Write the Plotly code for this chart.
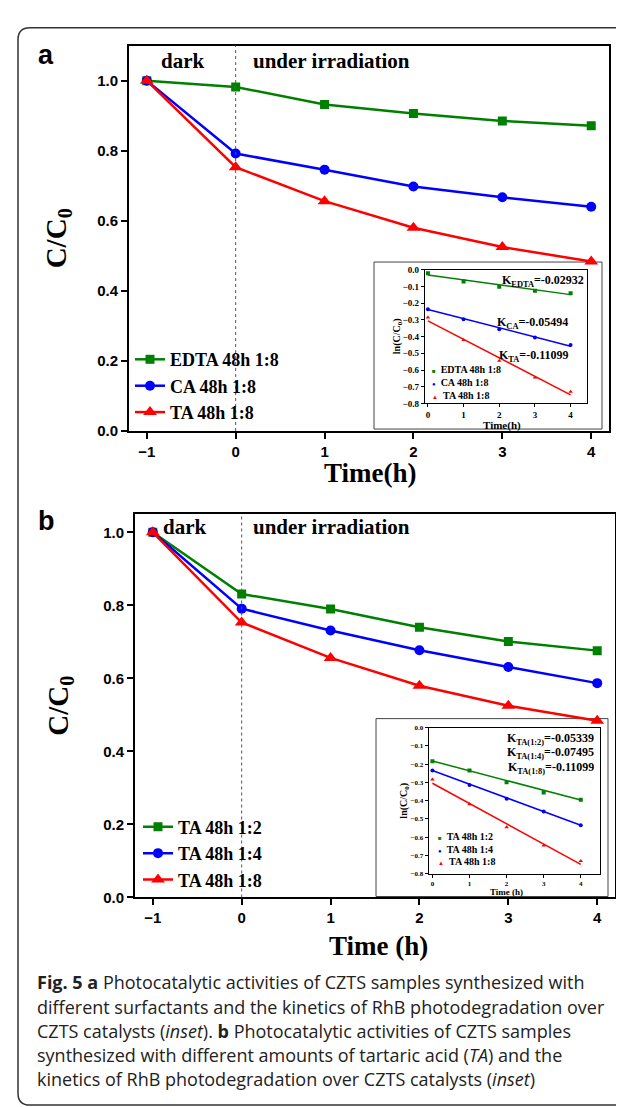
import plotly.graph_objects as go

W, H = 624, 1107

# ---- data ----
hours = [-1, 0, 1, 2, 3, 4]
edta_18 = [1.0, 0.982, 0.932, 0.906, 0.885, 0.871]
ca_18 = [1.0, 0.792, 0.746, 0.698, 0.667, 0.640]
ta_18 = [1.0, 0.753, 0.656, 0.580, 0.525, 0.484]

ta_12 = [1.0, 0.831, 0.790, 0.740, 0.701, 0.676]
ta_14 = [1.0, 0.791, 0.731, 0.677, 0.631, 0.587]
ta_18b = [1.0, 0.753, 0.656, 0.580, 0.525, 0.484]

# inset kinetics, ln(C/C0)
inset_hours = [0, 1, 2, 3, 4]
ln_edta = [-0.020, -0.070, -0.100, -0.125, -0.140]
ln_ca = [-0.235, -0.295, -0.355, -0.405, -0.450]
ln_ta = [-0.285, -0.420, -0.545, -0.645, -0.730]
ln_12 = [-0.185, -0.235, -0.300, -0.355, -0.395]
ln_14 = [-0.235, -0.315, -0.390, -0.460, -0.535]
ln_18 = [-0.285, -0.420, -0.545, -0.645, -0.730]

fit_hours = [0, 4]
fit_edta = [-0.031, -0.148]
fit_ca = [-0.237, -0.457]
fit_ta = [-0.305, -0.749]
fit_12 = [-0.183, -0.397]
fit_14 = [-0.235, -0.535]
fit_18 = [-0.305, -0.749]

GREEN, BLUE, RED = '#008000', '#0000ff', '#ff0000'
SERIF = 'Liberation Serif'
SANS = 'Liberation Sans'


def px(x):
    return x / W


def py(y):
    return 1 - y / H


fig = go.Figure()

# main panel a
for name, vals, col, sym, sz in [('EDTA 48h 1:8', edta_18, GREEN, 'square', 9),
                                 ('CA 48h 1:8', ca_18, BLUE, 'circle', 10),
                                 ('TA 48h 1:8', ta_18, RED, 'triangle-up', 12)]:
    fig.add_trace(go.Scatter(x=hours, y=vals, name='<b>' + name + '</b>', mode='lines+markers',
                             line=dict(color=col, width=2.5), marker=dict(symbol=sym, size=sz, color=col),
                             xaxis='x', yaxis='y', legend='legend'))

# inset a
for vals, fit, col, sym in [(ln_edta, fit_edta, GREEN, 'square'),
                            (ln_ca, fit_ca, BLUE, 'circle'),
                            (ln_ta, fit_ta, RED, 'triangle-up')]:
    fig.add_trace(go.Scatter(x=fit_hours, y=fit, mode='lines', line=dict(color=col, width=1.5),
                             xaxis='x2', yaxis='y2', showlegend=False))
    fig.add_trace(go.Scatter(x=inset_hours, y=vals, mode='markers', marker=dict(symbol=sym, size=4, color=col),
                             xaxis='x2', yaxis='y2', showlegend=False))

# main panel b
for name, vals, col, sym, sz in [('TA 48h 1:2', ta_12, GREEN, 'square', 9),
                                 ('TA 48h 1:4', ta_14, BLUE, 'circle', 10),
                                 ('TA 48h 1:8', ta_18b, RED, 'triangle-up', 12)]:
    fig.add_trace(go.Scatter(x=hours, y=vals, name='<b>' + name + '</b>', mode='lines+markers',
                             line=dict(color=col, width=2.5), marker=dict(symbol=sym, size=sz, color=col),
                             xaxis='x3', yaxis='y3', legend='legend2'))

# inset b
for vals, fit, col, sym in [(ln_12, fit_12, GREEN, 'square'),
                            (ln_14, fit_14, BLUE, 'circle'),
                            (ln_18, fit_18, RED, 'triangle-up')]:
    fig.add_trace(go.Scatter(x=fit_hours, y=fit, mode='lines', line=dict(color=col, width=1.5),
                             xaxis='x4', yaxis='y4', showlegend=False))
    fig.add_trace(go.Scatter(x=inset_hours, y=vals, mode='markers', marker=dict(symbol=sym, size=4, color=col),
                             xaxis='x4', yaxis='y4', showlegend=False))

main_ax = dict(showline=True, linecolor='black', linewidth=2, mirror=True, ticks='outside',
               ticklen=6, tickwidth=2, tickcolor='black', showgrid=False, zeroline=False,
               tickfont=dict(family=SANS, size=15, color='black', weight='bold'))
inset_ax = dict(showline=True, linecolor='black', linewidth=1, mirror=True, ticks='outside',
                ticklen=3, tickwidth=1, tickcolor='black', showgrid=False, zeroline=False)

fig.update_layout(
    width=W, height=H, margin=dict(l=0, r=0, t=0, b=0),
    paper_bgcolor='white', plot_bgcolor='rgba(0,0,0,0)',
    xaxis=dict(main_ax, domain=[px(121), px(601)], range=[-1.2, 4.2], tickvals=hours, anchor='y'),
    yaxis=dict(main_ax, domain=[py(423), py(33)], range=[0, 1.1], tickvals=[0, 0.2, 0.4, 0.6, 0.8, 1.0],
               tickformat='.1f', anchor='x'),
    xaxis2=dict(inset_ax, domain=[px(416.7), px(579)], range=[-0.09, 4.46], tickvals=inset_hours, anchor='y2',
                tickfont=dict(family=SERIF, size=9, color='black', weight='bold')),
    yaxis2=dict(inset_ax, domain=[py(395), py(260)], range=[-0.8, 0], dtick=0.1, tickformat='.1f', anchor='x2',
                tickfont=dict(family=SERIF, size=9, color='black', weight='bold')),
    xaxis3=dict(main_ax, domain=[px(127), px(607)], range=[-1.2, 4.2], tickvals=hours, anchor='y3'),
    yaxis3=dict(main_ax, domain=[py(895), py(507)], range=[0, 1.05], tickvals=[0, 0.2, 0.4, 0.6, 0.8, 1.0],
                tickformat='.1f', anchor='x3'),
    xaxis4=dict(inset_ax, domain=[px(420.7), px(591.7)], range=[-0.1, 4.51], tickvals=inset_hours, anchor='y4',
                tickfont=dict(family=SERIF, size=7, color='black', weight='bold')),
    yaxis4=dict(inset_ax, domain=[py(871), py(723)], range=[-0.8, 0], dtick=0.1, tickformat='.1f', anchor='x4',
                tickfont=dict(family=SERIF, size=7, color='black', weight='bold')),
    legend=dict(x=px(122), y=py(332), xanchor='left', yanchor='top', bgcolor='rgba(0,0,0,0)',
                font=dict(family=SERIF, size=18, color='black'), tracegroupgap=0),
    legend2=dict(x=px(130), y=py(805), xanchor='left', yanchor='top', bgcolor='rgba(0,0,0,0)',
                 font=dict(family=SERIF, size=18, color='black'), tracegroupgap=0),
    showlegend=True,
)

shapes = []
# outer rounded frame
r = 12
x0, x1, yt, yb = 10, 650, 15, 1105
frame = (f'M {px(x1)},{py(yt)} L {px(x0 + r)},{py(yt)} Q {px(x0)},{py(yt)} {px(x0)},{py(yt + r)} '
         f'L {px(x0)},{py(yb - r)} Q {px(x0)},{py(yb)} {px(x0 + r)},{py(yb)} L {px(x1)},{py(yb)}')
shapes.append(dict(type='path', path=frame, xref='paper', yref='paper', line=dict(color='#333', width=1.5),
                   layer='below'))
# inset boxes
shapes.append(dict(type='rect', xref='paper', yref='paper', x0=px(366), x1=px(594), y0=py(421), y1=py(252),
                   fillcolor='white', line=dict(color='#444', width=1), layer='below'))
shapes.append(dict(type='rect', xref='paper', yref='paper', x0=px(368), x1=px(600), y0=py(894), y1=py(714),
                   fillcolor='white', line=dict(color='#444', width=1), layer='below'))
# dotted dark/irradiation separators
for xr, yr in [('x', 'y domain'), ('x3', 'y3 domain')]:
    shapes.append(dict(type='line', xref=xr, yref=yr, x0=0, x1=0, y0=0, y1=1,
                       line=dict(color='#555', width=1, dash='dot')))
fig.update_layout(shapes=shapes)


def note(text, x, y, size, family=SERIF, xanchor='center', angle=0, color='black'):
    fig.add_annotation(text=text, x=px(x), y=py(y), xref='paper', yref='paper', showarrow=False,
                       xanchor=xanchor, yanchor='middle', textangle=angle,
                       font=dict(family=family, size=size, color=color))


# panel labels
note('<b>a</b>', 38, 43, 27, SANS)
note('<b>b</b>', 38, 514, 27, SANS)
note('<b>dark</b>', 175, 49, 21)
note('<b>under irradiation</b>', 243, 49, 21, xanchor='left')
note('<b>dark</b>', 177, 520, 21)
note('<b>under irradiation</b>', 243, 520, 21, xanchor='left')
# main axis titles
note('<b>C/C<sub>0</sub></b>', 50, 228, 29, angle=-90)
note('<b>C/C<sub>0</sub></b>', 52, 701, 29, angle=-90)
note('<b>Time(h)</b>', 362, 465, 27)
note('<b>Time (h)</b>', 370, 944, 27)

# inset a texts
note('<b>ln(C/C<sub>0</sub>)</b>', 389, 327, 10, angle=-90)
note('<b>Time(h)</b>', 494, 417, 11)
note('<b>K<sub>EDTA</sub>=-0.02932</b>', 578, 271, 12, xanchor='right')
note('<b>K<sub>CA</sub>=-0.05494</b>', 562, 314, 12, xanchor='right')
note('<b>K<sub>TA</sub>=-0.11099</b>', 563, 347, 12, xanchor='right')
for i, (lab, col, mk) in enumerate([('EDTA 48h 1:8', GREEN, '■'), ('CA 48h 1:8', BLUE, '●'),
                                     ('TA 48h 1:8', RED, '▲')]):
    note(f'<span style="color:{col};font-size:6px">{mk}</span>  <b>{lab}</b>', 422, 361 + i * 13, 10,
         xanchor='left')

# inset b texts
note('<b>ln(C/C<sub>0</sub>)</b>', 397, 797, 10, angle=-90)
note('<b>Time (h)</b>', 498, 889, 9)
note('<b>K<sub>TA(1:2)</sub>=-0.05339</b>', 588, 735, 12, xanchor='right')
note('<b>K<sub>TA(1:4)</sub>=-0.07495</b>', 588, 749, 12, xanchor='right')
note('<b>K<sub>TA(1:8)</sub>=-0.11099</b>', 588, 764, 12, xanchor='right')
for i, (lab, col, mk) in enumerate([('TA 48h 1:2', GREEN, '■'), ('TA 48h 1:4', BLUE, '●'),
                                     ('TA 48h 1:8', RED, '▲')]):
    note(f'<span style="color:{col};font-size:6px">{mk}</span>  <b>{lab}</b>', 428, 833 + i * 13, 10,
         xanchor='left')

# caption
caption = [
    '<b>Fig. 5</b> <b>a</b> Photocatalytic activities of CZTS samples synthesized with',
    'different surfactants and the kinetics of RhB photodegradation over',
    'CZTS catalysts (<i>inset</i>). <b>b</b> Photocatalytic activities of CZTS samples',
    'synthesized with different amounts of tartaric acid (<i>TA</i>) and the',
    'kinetics of RhB photodegradation over CZTS catalysts (<i>inset</i>)',
]
for i, line in enumerate(caption):
    note(line, 27, 981 + i * 24.5, 18, 'Open Sans', xanchor='left', color='#222')

fig.write_html('out.html')
